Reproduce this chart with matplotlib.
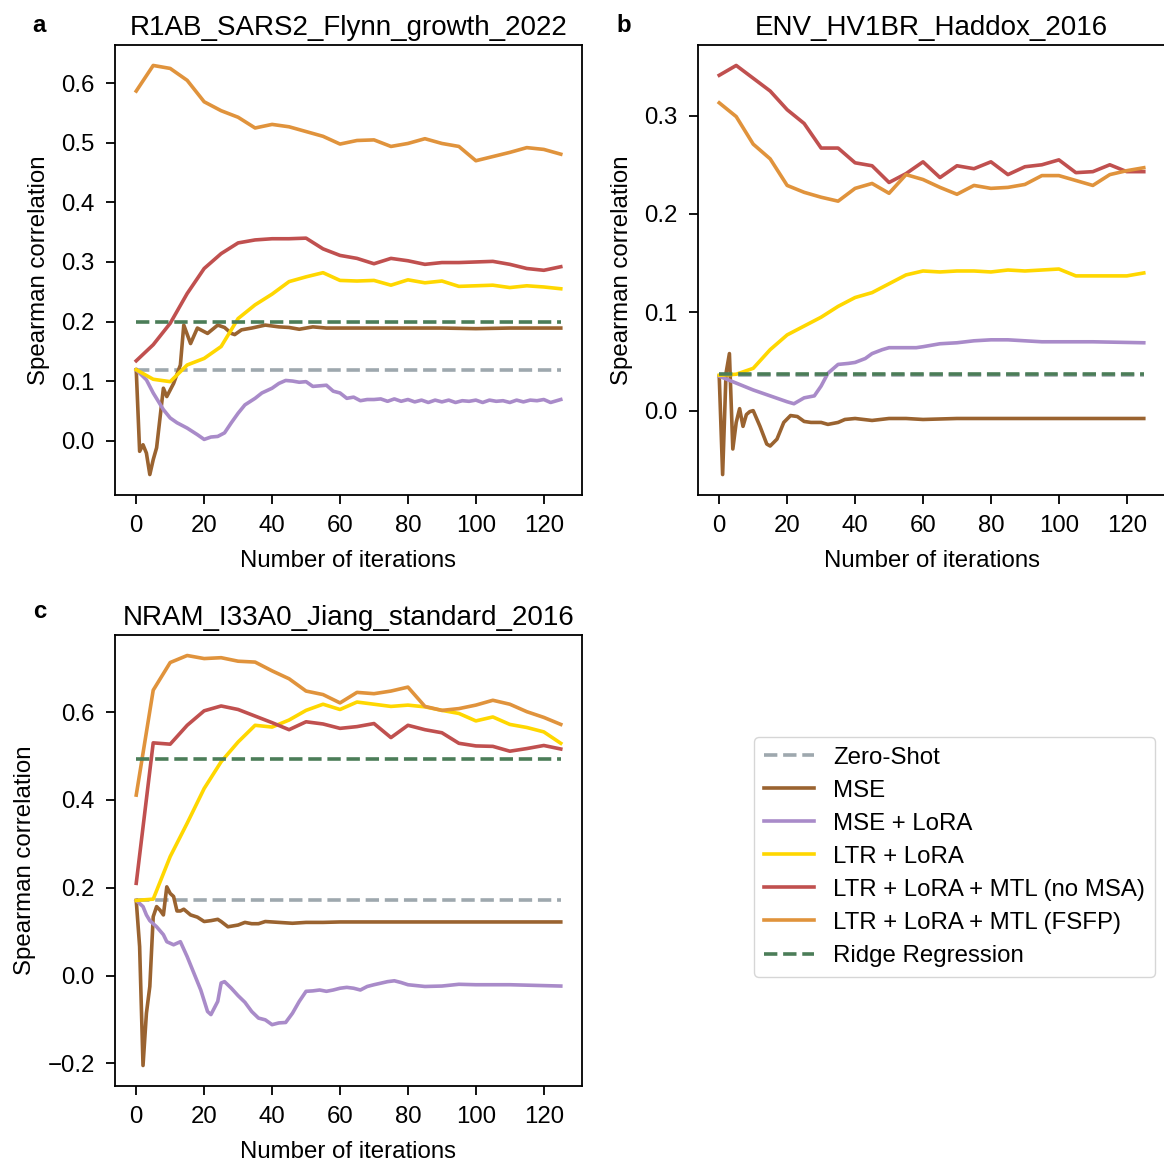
import matplotlib
matplotlib.use("Agg")
import matplotlib.pyplot as plt

plt.rcParams['font.family'] = ['Liberation Sans', 'DejaVu Sans']
plt.rcParams['axes.linewidth'] = 1.3

# iteration grid for the LTR-based runs (evaluated every 5 steps)
iters5 = [0, 5, 10, 15, 20, 25, 30, 35, 40, 45, 50, 55, 60, 65, 70, 75, 80,
          85, 90, 95, 100, 105, 110, 115, 120, 125]

methods = ["Zero-Shot", "MSE", "MSE + LoRA", "LTR + LoRA",
           "LTR + LoRA + MTL (no MSA)", "LTR + LoRA + MTL (FSFP)", "Ridge Regression"]
colors = ["#9ea8ae", "#9a6330", "#a98bc9", "#ffd700", "#c0504f", "#e0933c", "#4b7d58"]

# ---------------- panel a: R1AB_SARS2_Flynn_growth_2022 ----------------
a_zero = 0.119
a_ridge = 0.200
a_mse_x = [0, 1, 2, 3, 4, 5, 6, 8, 9, 10, 11, 13, 14, 16, 18, 21, 24, 26, 28, 29,
           31, 34, 38, 42, 45, 48, 52, 56, 60, 70, 80, 90, 100, 110, 125]
a_mse = [0.119, -0.018, -0.007, -0.021, -0.057, -0.032, -0.012, 0.088, 0.074, 0.085,
         0.096, 0.127, 0.194, 0.163, 0.189, 0.180, 0.194, 0.190, 0.180, 0.178,
         0.186, 0.189, 0.194, 0.191, 0.190, 0.187, 0.191, 0.189, 0.189, 0.189,
         0.189, 0.189, 0.188, 0.189, 0.189]
a_lora_x = [0, 3, 5, 8, 10, 12, 15, 18, 20, 22, 24, 26, 28, 30, 32, 35, 37, 40, 42,
            44, 46, 48, 50, 52, 54, 56, 58, 60, 62, 64, 66, 68, 70, 72, 74, 76, 78,
            80, 82, 84, 86, 88, 90, 92, 94, 96, 98, 100, 102, 104, 106, 108, 110,
            112, 114, 116, 118, 120, 122, 125]
a_lora = [0.119, 0.102, 0.080, 0.052, 0.038, 0.030, 0.021, 0.010, 0.002, 0.006,
          0.007, 0.013, 0.030, 0.046, 0.060, 0.071, 0.080, 0.088, 0.096, 0.101,
          0.100, 0.098, 0.099, 0.091, 0.092, 0.093, 0.083, 0.080, 0.071, 0.073,
          0.067, 0.069, 0.069, 0.070, 0.066, 0.070, 0.066, 0.069, 0.065, 0.068,
          0.064, 0.068, 0.065, 0.068, 0.064, 0.067, 0.066, 0.068, 0.064, 0.068,
          0.066, 0.067, 0.064, 0.068, 0.065, 0.068, 0.067, 0.069, 0.064, 0.069]
a_ltr = [0.119, 0.103, 0.099, 0.127, 0.138, 0.158, 0.205, 0.228, 0.246, 0.267,
         0.275, 0.282, 0.269, 0.268, 0.269, 0.261, 0.270, 0.265, 0.268, 0.259,
         0.260, 0.261, 0.257, 0.260, 0.258, 0.255]
a_nomsa = [0.134, 0.161, 0.197, 0.247, 0.289, 0.314, 0.332, 0.337, 0.339, 0.339,
           0.340, 0.322, 0.311, 0.306, 0.297, 0.306, 0.302, 0.296, 0.299, 0.299,
           0.300, 0.301, 0.296, 0.289, 0.286, 0.292]
a_fsfp = [0.587, 0.630, 0.625, 0.605, 0.569, 0.554, 0.543, 0.525, 0.531, 0.527,
          0.519, 0.511, 0.498, 0.504, 0.505, 0.494, 0.499, 0.507, 0.499, 0.494,
          0.470, 0.477, 0.484, 0.492, 0.489, 0.481]

# ---------------- panel b: ENV_HV1BR_Haddox_2016 ----------------
b_zero = 0.036
b_ridge = 0.037
b_mse_x = [0, 1, 2, 3, 4, 5, 6, 7, 8, 9, 10, 12, 14, 15, 17, 19, 21, 23, 25, 27,
           30, 32, 35, 37, 40, 45, 50, 55, 60, 70, 80, 90, 100, 110, 125]
b_mse = [0.035, -0.065, 0.038, 0.058, -0.039, -0.012, 0.002, -0.016, -0.004,
         -0.001, 0.000, -0.016, -0.034, -0.036, -0.029, -0.012, -0.005, -0.006,
         -0.011, -0.012, -0.012, -0.014, -0.012, -0.009, -0.008, -0.010, -0.008,
         -0.008, -0.009, -0.008, -0.008, -0.008, -0.008, -0.008, -0.008]
b_lora_x = [0, 5, 10, 15, 20, 22, 25, 28, 30, 32, 35, 38, 40, 43, 45, 48, 50, 55,
            58, 60, 65, 70, 75, 80, 85, 90, 95, 100, 110, 125]
b_lora = [0.035, 0.028, 0.021, 0.015, 0.009, 0.007, 0.013, 0.015, 0.025, 0.038,
          0.047, 0.048, 0.049, 0.053, 0.058, 0.062, 0.064, 0.064, 0.064, 0.065,
          0.068, 0.069, 0.071, 0.072, 0.072, 0.071, 0.070, 0.070, 0.070, 0.069]
b_ltr = [0.036, 0.037, 0.043, 0.062, 0.077, 0.086, 0.095, 0.106, 0.115, 0.120,
         0.129, 0.138, 0.142, 0.141, 0.142, 0.142, 0.141, 0.143, 0.142, 0.143,
         0.144, 0.137, 0.137, 0.137, 0.137, 0.140]
b_nomsa = [0.341, 0.351, 0.338, 0.325, 0.306, 0.292, 0.267, 0.267, 0.252, 0.249,
           0.232, 0.241, 0.253, 0.237, 0.249, 0.246, 0.253, 0.240, 0.248, 0.250,
           0.255, 0.242, 0.243, 0.250, 0.243, 0.243]
b_fsfp = [0.313, 0.299, 0.271, 0.256, 0.229, 0.222, 0.217, 0.213, 0.226, 0.231,
          0.221, 0.240, 0.235, 0.227, 0.220, 0.229, 0.226, 0.227, 0.230, 0.239,
          0.239, 0.234, 0.229, 0.240, 0.244, 0.247]

# ---------------- panel c: NRAM_I33A0_Jiang_standard_2016 ----------------
c_zero = 0.171
c_ridge = 0.494
c_mse_x = [0, 1, 2, 3, 4, 5, 6, 7, 8, 9, 10, 11, 12, 13, 14, 16, 18, 20, 22, 24,
           25, 27, 30, 32, 34, 36, 38, 42, 46, 50, 55, 60, 80, 100, 125]
c_mse = [0.171, 0.066, -0.205, -0.086, -0.025, 0.134, 0.157, 0.149, 0.138, 0.202,
         0.187, 0.180, 0.147, 0.147, 0.151, 0.138, 0.133, 0.123, 0.125, 0.128,
         0.123, 0.111, 0.115, 0.121, 0.118, 0.118, 0.123, 0.121, 0.119, 0.121,
         0.121, 0.122, 0.122, 0.122, 0.122]
c_lora_x = [0, 2, 3, 4, 6, 8, 9, 11, 13, 15, 17, 19, 21, 22, 24, 25, 26, 28, 30,
            32, 34, 36, 38, 40, 42, 44, 46, 48, 50, 52, 54, 56, 58, 60, 62, 64, 66,
            68, 70, 74, 76, 78, 80, 85, 90, 95, 100, 110, 125]
c_lora = [0.171, 0.157, 0.138, 0.125, 0.111, 0.093, 0.077, 0.070, 0.077, 0.043,
          0.005, -0.033, -0.082, -0.089, -0.059, -0.017, -0.014, -0.029, -0.046,
          -0.061, -0.082, -0.097, -0.101, -0.112, -0.108, -0.107, -0.086, -0.059,
          -0.036, -0.035, -0.033, -0.036, -0.033, -0.029, -0.027, -0.029, -0.033,
          -0.025, -0.021, -0.014, -0.012, -0.016, -0.021, -0.025, -0.024, -0.020,
          -0.021, -0.021, -0.024]
c_ltr = [0.171, 0.174, 0.271, 0.347, 0.426, 0.487, 0.532, 0.570, 0.566, 0.582,
         0.604, 0.618, 0.606, 0.623, 0.618, 0.613, 0.616, 0.612, 0.604, 0.597,
         0.580, 0.589, 0.572, 0.565, 0.555, 0.529]
c_nomsa = [0.210, 0.530, 0.527, 0.570, 0.603, 0.614, 0.606, 0.591, 0.576, 0.560,
           0.578, 0.573, 0.563, 0.567, 0.574, 0.542, 0.570, 0.560, 0.553, 0.529,
           0.523, 0.522, 0.511, 0.517, 0.524, 0.516]
c_fsfp = [0.411, 0.650, 0.713, 0.729, 0.722, 0.724, 0.716, 0.714, 0.694, 0.676,
          0.648, 0.640, 0.621, 0.645, 0.642, 0.648, 0.657, 0.613, 0.604, 0.608,
          0.616, 0.627, 0.618, 0.601, 0.588, 0.572]

panels = [
    ("a", "R1AB_SARS2_Flynn_growth_2022", a_zero, a_mse_x, a_mse, a_lora_x, a_lora,
     a_ltr, a_nomsa, a_fsfp, a_ridge),
    ("b", "ENV_HV1BR_Haddox_2016", b_zero, b_mse_x, b_mse, b_lora_x, b_lora,
     b_ltr, b_nomsa, b_fsfp, b_ridge),
    ("c", "NRAM_I33A0_Jiang_standard_2016", c_zero, c_mse_x, c_mse, c_lora_x, c_lora,
     c_ltr, c_nomsa, c_fsfp, c_ridge),
]

W, H = 1164, 1162
fig = plt.figure(figsize=(W / 100, H / 100), dpi=100)

# axes rectangles in pixels: left, top, right, bottom
boxes = {"a": (115, 45, 582, 495), "b": (698, 45, 1165, 495), "c": (115, 635, 582, 1086)}
tag_pos = {"a": (39, 26), "b": (624, 26), "c": (40, 612)}

lw = 2.6
fs = 17.3
for tag, title, zero, mse_x, mse, lora_x, lora, ltr, nomsa, fsfp, ridge in panels:
    l, t, r, b = boxes[tag]
    ax = fig.add_axes([l / W, 1 - b / H, (r - l) / W, (b - t) / H])
    ends = [iters5[0], iters5[-1]]
    ax.plot(ends, [zero, zero], ls="--", color=colors[0], lw=lw, label=methods[0])
    ax.plot(mse_x, mse, color=colors[1], lw=lw, label=methods[1])
    ax.plot(lora_x, lora, color=colors[2], lw=lw, label=methods[2])
    ax.plot(iters5, ltr, color=colors[3], lw=lw, label=methods[3])
    ax.plot(iters5, nomsa, color=colors[4], lw=lw, label=methods[4])
    ax.plot(iters5, fsfp, color=colors[5], lw=lw, label=methods[5])
    ax.plot(ends, [ridge, ridge], ls="--", color=colors[6], lw=lw, label=methods[6])

    ax.set_xticks([0, 20, 40, 60, 80, 100, 120])
    ax.tick_params(labelsize=fs, length=6.5, width=1.3, pad=8)
    ax.set_title(title, fontsize=20, pad=7)
    ax.set_xlabel("Number of iterations", fontsize=fs, labelpad=9)
    ax.set_ylabel("Spearman correlation", fontsize=fs, labelpad=8)
    fig.text(tag_pos[tag][0] / W, 1 - tag_pos[tag][1] / H, tag, fontsize=fs,
             fontweight="bold", ha="center", va="center")

handles, labels = ax.get_legend_handles_labels()
fig.legend(handles, labels, loc="upper left", bbox_to_anchor=(754 / W, 1 - 737 / H),
           borderaxespad=0, fontsize=fs, labelspacing=0.46, handlelength=2.1,
           frameon=True)

fig.savefig("out.png", dpi=100)
